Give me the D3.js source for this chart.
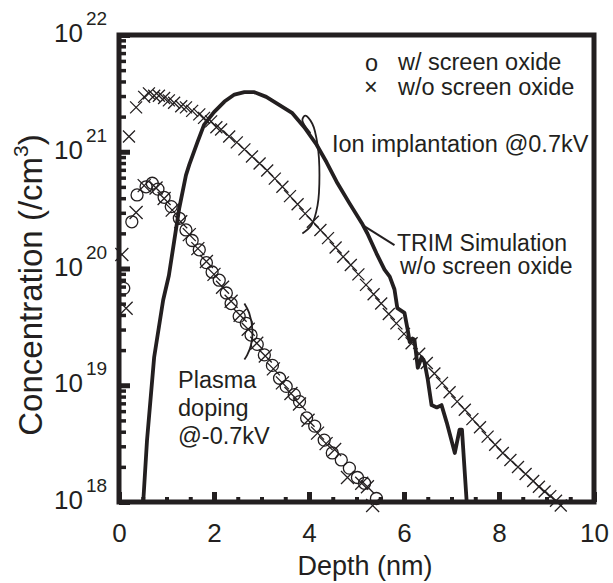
<!DOCTYPE html>
<html>
<head>
<meta charset="utf-8">
<script src="https://cdn.jsdelivr.net/npm/d3@7"></script>
<style>
  body { margin: 0; background: #fff; }
  text { font-family: "Liberation Sans", Arial, sans-serif; fill: #231f20; }
</style>
</head>
<body>
<svg id="chart" width="613" height="583"></svg>
<script>
// depth in nm, concentration stored as log10(/cm3)
const upperDepth = [0.21, 0.36, 0.53, 0.63, 0.74, 0.84, 0.95, 1.05, 1.16, 1.31, 1.41, 1.54, 1.69, 1.79, 1.94, 2.05, 2.15, 2.32,
  2.48, 2.64, 2.80, 2.96, 3.12, 3.28, 3.44, 3.60, 3.76, 3.92, 4.08, 4.24, 4.40, 4.56, 4.72, 4.88, 5.04, 5.20, 5.36, 5.52,
  5.68, 5.84, 6.00, 6.16, 6.32, 6.48, 6.64, 6.80, 6.96, 7.12, 7.28, 7.44, 7.60, 7.76, 7.92, 8.08, 8.24, 8.40, 8.56, 8.72,
  8.84, 8.96, 9.08, 9.20, 9.30];
const upperLog = [21.13, 21.38, 21.47, 21.50, 21.48, 21.48, 21.46, 21.44, 21.42, 21.39, 21.38, 21.35, 21.32, 21.29, 21.26, 21.21, 21.19, 21.13,
  21.08, 21.02, 20.96, 20.90, 20.84, 20.77, 20.70, 20.62, 20.55, 20.47, 20.40, 20.33, 20.26, 20.18, 20.10, 20.03, 19.95, 19.86, 19.78, 19.70,
  19.61, 19.53, 19.44, 19.36, 19.27, 19.19, 19.10, 19.02, 18.94, 18.86, 18.79, 18.71, 18.64, 18.56, 18.49, 18.42, 18.36, 18.30, 18.24, 18.18,
  18.13, 18.09, 18.05, 18.01, 17.97];

const oxideDepth = [0.10, 0.27, 0.38, 0.57, 0.70, 0.82, 0.95, 1.10, 1.27, 1.41, 1.54, 1.69, 1.84, 1.96, 2.11, 2.26, 2.36, 2.53, 2.68, 2.78,
  2.91, 3.06, 3.23, 3.38, 3.52, 3.69, 3.80, 3.95, 4.12, 4.32, 4.49, 4.68, 4.85, 5.02, 5.17, 5.42];
const oxideLog = [19.83, 20.40, 20.63, 20.70, 20.73, 20.68, 20.61, 20.53, 20.43, 20.33, 20.24, 20.16, 20.05, 19.97, 19.90, 19.79, 19.70, 19.59, 19.53, 19.43,
  19.35, 19.26, 19.17, 19.06, 18.99, 18.92, 18.86, 18.72, 18.65, 18.53, 18.42, 18.36, 18.29, 18.21, 18.16, 18.03];

const bareDepth = [0.06, 0.15, 0.36, 0.53, 0.78, 0.95, 1.12, 1.30, 1.48, 1.66, 1.84, 2.00, 2.18, 2.36, 2.55, 2.72, 2.90, 3.08, 3.25, 3.44,
  3.62, 3.80, 3.98, 4.18, 4.36, 4.54, 4.81, 5.11, 5.23, 5.34];
const bareLog = [20.12, 19.66, 20.48, 20.71, 20.69, 20.60, 20.50, 20.40, 20.29, 20.17, 20.06, 19.95, 19.84, 19.72, 19.60, 19.48, 19.36, 19.25, 19.14, 19.02,
  18.93, 18.84, 18.70, 18.59, 18.50, 18.45, 18.21, 18.16, 18.13, 17.97];

const simsDepth = [0.51, 0.59, 0.74, 0.93, 1.05, 1.16, 1.27, 1.41, 1.48, 1.65, 1.79, 2.00, 2.22, 2.43, 2.64, 2.85, 3.10, 3.38, 3.65, 3.90,
  4.16, 4.37, 4.60, 4.85, 5.11, 5.23, 5.42, 5.59, 5.70, 5.80, 5.86, 6.01, 6.08, 6.12, 6.18, 6.22, 6.29, 6.37, 6.43, 6.50,
  6.58, 6.69, 6.79, 6.90, 7.07, 7.17, 7.22, 7.32];
const simsLog = [18.00, 18.53, 19.24, 19.73, 19.94, 20.23, 20.52, 20.80, 20.89, 21.08, 21.23, 21.34, 21.43, 21.49, 21.51, 21.51, 21.47, 21.40, 21.33, 21.21,
  21.06, 20.91, 20.73, 20.56, 20.39, 20.30, 20.13, 19.99, 19.93, 19.82, 19.66, 19.62, 19.47, 19.37, 19.40, 19.39, 19.15, 19.24, 19.20, 19.05,
  18.83, 18.81, 18.83, 18.68, 18.42, 18.62, 18.62, 18.00];

const xTicks = [0, 2, 4, 6, 8, 10];
const xMinorTicks = [0.5, 1, 1.5, 2.5, 3, 3.5, 4.5, 5, 5.5, 6.5, 7, 7.5, 8.5, 9, 9.5];
const yDecades = [18, 19, 20, 21, 22];

// annotation curves, in data units (depth, log10 conc)
const ionBracket = [[4.03, 21.16], [3.86, 21.27], [3.92, 21.31], [4.07, 21.24], [4.18, 21.06], [4.22, 20.80], [4.18, 20.54], [4.05, 20.37], [3.86, 20.30]];
const plasmaBracket = [[2.64, 19.70], [2.74, 19.62], [2.81, 19.47], [2.78, 19.345], [2.70, 19.26], [2.64, 19.22]];
const trimPointer = [[5.17, 20.36], [5.80, 20.20]];

const ink = "#231f20";
const svg = d3.select("#chart");
const x = d3.scaleLinear().domain([0, 10]).range([119, 594]);
const y = d3.scaleLog().domain([1e18, 1e22]).range([502, 35]);
const pt = (d, lg) => [x(d), y(Math.pow(10, lg))];

svg.append("defs").append("clipPath").attr("id", "plotClip")
  .append("rect").attr("x", x(0)).attr("y", y(1e22)).attr("width", x(10) - x(0)).attr("height", y(1e18) - y(1e22));

const plot = svg.append("g");

// SIMS thick line
plot.append("path")
  .attr("clip-path", "url(#plotClip)")
  .attr("d", d3.line()(simsDepth.map((d, i) => pt(d, simsLog[i]))))
  .attr("fill", "none").attr("stroke", ink).attr("stroke-width", 3.8).attr("stroke-linejoin", "round");

function crosses(depths, logs, s) {
  plot.append("g").selectAll("path").data(depths).join("path")
    .attr("transform", (d, i) => `translate(${pt(d, logs[i])})`)
    .attr("d", `M${-s},${-s}L${s},${s}M${-s},${s}L${s},${-s}`)
    .attr("stroke", ink).attr("stroke-width", 1.3).attr("fill", "none");
}
crosses(upperDepth, upperLog, 6);
plot.append("g").selectAll("circle").data(oxideDepth).join("circle")
  .attr("cx", (d, i) => pt(d, oxideLog[i])[0])
  .attr("cy", (d, i) => pt(d, oxideLog[i])[1])
  .attr("r", 6).attr("fill", "none").attr("stroke", ink).attr("stroke-width", 1.3);
crosses(bareDepth, bareLog, 6.5);

// annotations
const curve = d3.line().curve(d3.curveCatmullRom);
[ionBracket, plasmaBracket].forEach(b => {
  plot.append("path").attr("d", curve(b.map(p => pt(p[0], p[1]))))
    .attr("fill", "none").attr("stroke", ink).attr("stroke-width", 1.8);
});
plot.append("path").attr("d", d3.line()(trimPointer.map(p => pt(p[0], p[1]))))
  .attr("stroke", ink).attr("stroke-width", 2);

// axes
const axes = svg.append("g");
axes.append("g").attr("transform", `translate(0,${y(1e18)})`)
  .call(d3.axisBottom(x).tickValues(xMinorTicks).tickSize(-5).tickFormat(""))
  .call(g => g.select(".domain").remove())
  .call(g => g.selectAll("line").attr("stroke", ink).attr("stroke-width", 4));
axes.append("g").attr("transform", `translate(0,${y(1e18)})`)
  .call(d3.axisBottom(x).tickValues(xTicks).tickSize(-10).tickPadding(21.5).tickFormat(d3.format("d")))
  .call(g => g.select(".domain").remove())
  .call(g => g.selectAll("line").attr("stroke", ink).attr("stroke-width", 5))
  .call(g => g.selectAll("text").attr("font-size", 26).attr("font-family", null).attr("fill", ink));

const yMinor = [];
yDecades.slice(0, -1).forEach(e => { for (let k = 2; k <= 9; k++) yMinor.push(k * Math.pow(10, e)); });
axes.append("g").attr("transform", `translate(${x(0)},0)`)
  .call(d3.axisLeft(y).tickValues(yMinor).tickSize(-7).tickFormat(""))
  .call(g => g.select(".domain").remove())
  .call(g => g.selectAll("line").attr("stroke", ink).attr("stroke-width", 3.5));
axes.append("g").attr("transform", `translate(${x(0)},0)`)
  .call(d3.axisLeft(y).tickValues(yDecades.map(e => Math.pow(10, e))).tickSize(-11).tickFormat(""))
  .call(g => g.select(".domain").remove())
  .call(g => g.selectAll("line").attr("stroke", ink).attr("stroke-width", 5));

const yLab = axes.append("g").selectAll("g").data(yDecades).join("g")
  .attr("transform", e => `translate(0,${y(Math.pow(10, e))})`);
yLab.append("text").attr("x", 83).attr("y", 7).attr("text-anchor", "end").attr("font-size", 26).text("10");
yLab.append("text").attr("x", 86).attr("y", -10).attr("font-size", 19).text(e => e);

axes.append("rect")
  .attr("x", x(0)).attr("y", y(1e22)).attr("width", x(10) - x(0)).attr("height", y(1e18) - y(1e22))
  .attr("fill", "none").attr("stroke", ink).attr("stroke-width", 5);

// titles
svg.append("text").attr("x", 365).attr("y", 575).attr("text-anchor", "middle").attr("font-size", 27).text("Depth (nm)");
const yt = svg.append("text").attr("transform", "translate(42,285) rotate(-90)").attr("text-anchor", "middle").attr("font-size", 33);
yt.append("tspan").text("Concentration (/cm");
yt.append("tspan").attr("dy", -14).attr("font-size", 21).text("3");
yt.append("tspan").attr("dy", 14).text(")");

// legend and labels
const fs = 23.5;
svg.append("text").attr("x", 365).attr("y", 71).attr("font-size", fs).text("o");
svg.append("text").attr("x", 398).attr("y", 70).attr("font-size", fs).text("w/ screen oxide");
svg.append("text").attr("x", 364).attr("y", 95).attr("font-size", fs).text("\u00d7");
svg.append("text").attr("x", 398).attr("y", 95).attr("font-size", fs).text("w/o screen oxide");
svg.append("text").attr("x", 332).attr("y", 152).attr("font-size", fs).text("Ion implantation @0.7kV");
svg.append("text").attr("x", 397).attr("y", 251).attr("font-size", 23).text("TRIM Simulation");
svg.append("text").attr("x", 400).attr("y", 274).attr("font-size", 23).text("w/o screen oxide");
["Plasma", "doping", "@-0.7kV"].forEach((t, i) => {
  svg.append("text").attr("x", 178).attr("y", 388 + i * 28).attr("font-size", fs).text(t);
});
</script>
</body>
</html>
